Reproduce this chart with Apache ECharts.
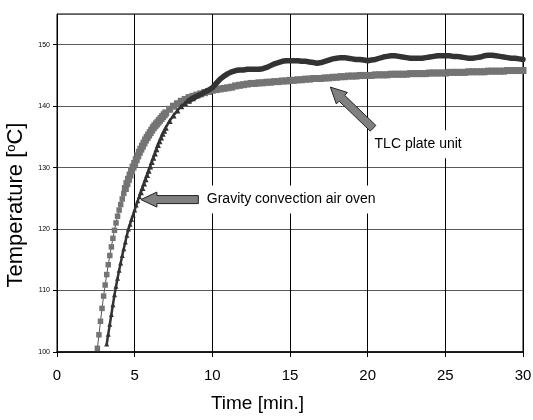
<!DOCTYPE html>
<html>
<head>
<meta charset="utf-8">
<script src="https://cdn.jsdelivr.net/npm/echarts@6/dist/echarts.min.js"></script>
<style>
	html, body { margin: 0; padding: 0; background: #fff; }
	#grafico { width: 533px; height: 420px; }
</style>
</head>
<body>
<div id="grafico"></div>
<script>
// Time axis (min.)
const minutes = [
	2.6, 2.7, 2.8, 2.9, 3.0, 3.1, 3.2, 3.3, 3.4, 3.5, 3.6, 3.7, 3.8, 3.9, 4.0,
	4.1, 4.2, 4.3, 4.4, 4.5, 4.6, 4.7, 4.8, 4.9, 5.0, 5.1, 5.2, 5.3, 5.4, 5.5,
	5.6, 5.7, 5.8, 5.9, 6.0, 6.1, 6.2, 6.3, 6.4, 6.5, 6.6, 6.7, 6.8, 6.9, 7.0,
	7.25, 7.5, 7.75, 8, 8.25, 8.5, 8.75, 9, 9.25, 9.5, 9.75, 10,
	10.25, 10.5, 10.75, 11, 11.25, 11.5, 11.75, 12, 12.25, 12.5, 12.75, 13,
	13.25, 13.5, 13.75, 14, 14.25, 14.5, 14.75, 15, 15.25, 15.5, 15.75, 16,
	16.25, 16.5, 16.75, 17, 17.25, 17.5, 17.75, 18, 18.25, 18.5, 18.75, 19,
	19.25, 19.5, 19.75, 20, 20.25, 20.5, 20.75, 21, 21.25, 21.5, 21.75, 22,
	22.25, 22.5, 22.75, 23, 23.25, 23.5, 23.75, 24, 24.25, 24.5, 24.75, 25,
	25.25, 25.5, 25.75, 26, 26.25, 26.5, 26.75, 27, 27.25, 27.5, 27.75, 28,
	28.25, 28.5, 28.75, 29, 29.25, 29.5, 29.75, 30
];

// TLC plate unit (grey squares)
const tlcTemp = [
	100.6, 102.8, 105.0, 107.1, 109.1, 110.9, 112.6, 114.2, 115.7, 117.1, 118.5, 119.8, 121.0, 122.1, 123.1,
	124.0, 124.9, 125.8, 126.6, 127.4, 128.1, 128.8, 129.5, 130.1, 130.7, 131.3, 131.9, 132.5, 133.0, 133.5,
	134.0, 134.5, 134.9, 135.3, 135.7, 136.1, 136.5, 136.8, 137.1, 137.4, 137.7, 138.0, 138.3, 138.6, 138.9,
	139.5, 140.0, 140.4, 140.8, 141.1, 141.4, 141.6, 141.8, 142.0, 142.2, 142.4, 142.6,
	142.7, 142.8, 142.9, 143.0, 143.1, 143.3, 143.4, 143.5, 143.6, 143.7, 143.7, 143.8,
	143.8, 143.9, 143.9, 144.0, 144.0, 144.1, 144.1, 144.2, 144.2, 144.3, 144.3, 144.4,
	144.4, 144.5, 144.5, 144.5, 144.6, 144.6, 144.7, 144.7, 144.8, 144.8, 144.9, 144.9,
	144.9, 145.0, 145.0, 145.0, 145.0, 145.1, 145.1, 145.1, 145.1, 145.2, 145.2, 145.2,
	145.2, 145.2, 145.3, 145.3, 145.3, 145.3, 145.3, 145.4, 145.4, 145.4, 145.4, 145.4,
	145.5, 145.5, 145.5, 145.5, 145.5, 145.6, 145.6, 145.6, 145.6, 145.6, 145.7, 145.7,
	145.7, 145.7, 145.7, 145.8, 145.8, 145.8, 145.8, 145.8
];

// Gravity convection air oven (dark triangles)
const ovenTemp = [
	null, null, null, null, null, null, 101.3, 102.9, 104.5, 106.1, 107.7, 109.3, 110.7, 112.0, 113.3,
	114.5, 115.7, 116.8, 117.9, 119.0, 120.0, 120.8, 121.6, 122.3, 123.1, 123.9, 124.6, 125.3, 126.0, 126.7,
	127.4, 128.1, 128.8, 129.5, 130.2, 130.9, 131.6, 132.3, 133.0, 133.7, 134.3, 134.9, 135.5, 136.0, 136.5,
	137.6, 138.5, 139.3, 140.0, 140.5, 140.9, 141.3, 141.6, 141.9, 142.3, 142.6, 143.0,
	143.7, 144.4, 144.9, 145.3, 145.6, 145.8, 145.9, 145.9, 146.0, 146.0, 146.0, 146.0,
	146.1, 146.3, 146.6, 146.9, 147.1, 147.3, 147.4, 147.4, 147.4, 147.4, 147.3, 147.3,
	147.2, 147.1, 147.0, 147.1, 147.3, 147.5, 147.7, 147.8, 147.9, 147.9, 147.8, 147.7,
	147.6, 147.6, 147.5, 147.4, 147.5, 147.6, 147.8, 148.0, 148.1, 148.2, 148.2, 148.1,
	148.0, 147.9, 147.8, 147.8, 147.8, 147.8, 147.9, 148.0, 148.1, 148.2, 148.2, 148.2,
	148.2, 148.1, 148.1, 148.0, 147.9, 147.8, 147.8, 147.9, 148.0, 148.2, 148.3, 148.3,
	148.2, 148.1, 148.0, 147.9, 147.8, 147.8, 147.7, 147.6
];

// annotations: [tip, tail] of the arrows and text anchors, in data units
const ovenArrow = [[5.4, 124.8], [9.1, 124.8]];
const ovenLabel = [9.45, 124.8];
const tlcArrow = [[17.6, 143.1], [20.35, 136.4]];
const tlcLabel = [20.25, 133.8];

const fonte = "'Liberation Sans', Arial, sans-serif";

function pares(valores) {
	return minutes.map((t, i) => [t, valores[i]]).filter(d => d[1] !== null);
}

// the oven curve: separate triangles while rising, one thick line on the plateau
const ovenPares = pares(ovenTemp);
const ovenSubida = ovenPares.filter(d => d[0] <= 8.75);
const ovenPatamar = ovenPares.filter(d => d[0] >= 8.5);

const grafico = echarts.init(document.getElementById('grafico'), null, { renderer: 'canvas' });

const option = {
	animation: false,
	backgroundColor: '#fff',
	grid: {
		left: 57, right: 10, top: 14, bottom: 68,
		outerBoundsMode: 'none',
		containLabel: false,
		show: true, borderColor: '#000', borderWidth: 1, backgroundColor: '#fff'
	},
	xAxis: {
		type: 'value',
		min: 0, max: 30, interval: 5,
		name: 'Time [min.]',
		nameLocation: 'middle',
		nameGap: 42,
		nameMoveOverlap: false,
		nameTextStyle: { fontFamily: fonte, fontSize: 19, color: '#000', padding: [0, 65, 0, 0] },
		axisLine: { lineStyle: { color: '#000', width: 1.5 } },
		axisTick: { show: true, length: 5, lineStyle: { color: '#000' } },
		axisLabel: { fontFamily: fonte, fontSize: 15, color: '#000', margin: 16 },
		splitLine: { show: true, lineStyle: { color: '#000', width: 1 } }
	},
	yAxis: {
		type: 'value',
		min: 100, max: 155, interval: 10,
		name: '{a|Temperature [}{s|o}{a|C]}',
		nameLocation: 'middle',
		nameGap: 30,
		nameMoveOverlap: false,
		nameTextStyle: {
			padding: [0, 44, 0, 0],
			rich: {
				a: { fontFamily: fonte, fontSize: 22, color: '#000', verticalAlign: 'bottom' },
				s: { fontFamily: fonte, fontSize: 13, color: '#000', verticalAlign: 'top' }
			}
		},
		axisLine: { show: true, lineStyle: { color: '#000', width: 1 } },
		axisTick: { show: true, length: 4, lineStyle: { color: '#000' } },
		axisLabel: { fontFamily: fonte, fontSize: 7, color: '#000', margin: 7, showMaxLabel: false },
		splitLine: { show: true, lineStyle: { color: '#5a5a5a', width: 1.2 } }
	},
	series: [
		{
			name: 'TLC plate unit',
			type: 'line',
			data: pares(tlcTemp),
			symbol: 'rect',
			// markers merge into a thick band once the curve flattens
			symbolSize: v => (v[1] < 126 ? 5.5 : 7),
			showAllSymbol: true,
			itemStyle: { color: '#747474' },
			lineStyle: { color: '#555', width: 1 },
			z: 2
		},
		{
			name: 'Gravity convection air oven',
			type: 'line',
			data: ovenSubida,
			symbol: 'triangle',
			symbolSize: v => (v[1] < 126 ? 5 : 6),
			showAllSymbol: true,
			itemStyle: { color: '#333' },
			lineStyle: { color: '#333', width: 2.5 },
			z: 3
		},
		{
			name: 'Gravity convection air oven',
			type: 'line',
			data: ovenPatamar,
			showSymbol: false,
			lineStyle: { color: '#333', width: 5.5, join: 'round', cap: 'round' },
			z: 3
		}
	]
};

grafico.setOption(option);

// block arrow polygon from tip to tail (pixels)
function setaBloco(tip, tail, meioHaste, meioCabeca, compCabeca) {
	const dx = tail[0] - tip[0], dy = tail[1] - tip[1];
	const len = Math.hypot(dx, dy);
	const ux = dx / len, uy = dy / len;
	const nx = -uy, ny = ux;
	const bx = tip[0] + ux * compCabeca, by = tip[1] + uy * compCabeca;
	return [
		[tip[0], tip[1]],
		[bx + nx * meioCabeca, by + ny * meioCabeca],
		[bx + nx * meioHaste, by + ny * meioHaste],
		[tail[0] + nx * meioHaste, tail[1] + ny * meioHaste],
		[tail[0] - nx * meioHaste, tail[1] - ny * meioHaste],
		[bx - nx * meioHaste, by - ny * meioHaste],
		[bx - nx * meioCabeca, by - ny * meioCabeca]
	];
}

function px(p) {
	return grafico.convertToPixel({ gridIndex: 0 }, p);
}

function anotacoes() {
	const estiloSeta = { fill: '#808080', stroke: '#222', lineWidth: 1 };
	const estiloTexto = {
		fill: '#000', font: '14px ' + fonte, backgroundColor: '#fff',
		padding: [7, 3], verticalAlign: 'middle', align: 'left'
	};
	const o = px(ovenLabel), t = px(tlcLabel);
	return [
		{ type: 'polygon', z: 100, shape: { points: setaBloco(px(ovenArrow[0]), px(ovenArrow[1]), 4, 7.5, 16) }, style: estiloSeta },
		{ type: 'polygon', z: 100, shape: { points: setaBloco(px(tlcArrow[0]), px(tlcArrow[1]), 4, 8, 16) }, style: estiloSeta },
		{ type: 'text', z: 100, x: o[0], y: o[1], style: Object.assign({ text: 'Gravity convection air oven' }, estiloTexto) },
		{ type: 'text', z: 100, x: t[0], y: t[1], style: Object.assign({ text: 'TLC plate unit' }, estiloTexto) }
	];
}

grafico.setOption({ graphic: anotacoes() });
</script>
</body>
</html>
